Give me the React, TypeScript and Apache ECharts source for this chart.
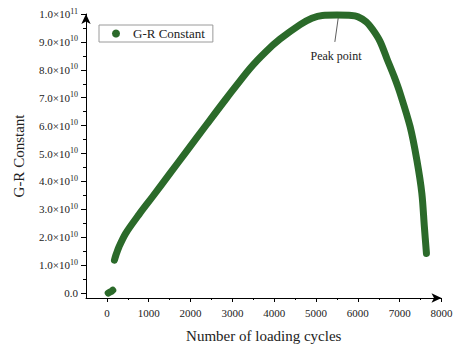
import React, { useEffect, useRef } from "react";
import * as echarts from "echarts";

// Early (pre-jump) cluster of G-R constant values
const earlyCycles = [30, 70, 110, 140];
const earlyGR = [0.0e10, 0.03e10, 0.06e10, 0.1e10];

// Main branch: rise to the peak and the final drop
const mainCycles = [
  180, 220, 290, 450, 770, 1090, 1490, 1890, 2380, 2860, 3420, 3800, 4140, 4620,
  4900, 5150, 5500, 5850, 6000, 6200, 6350, 6530, 6700, 6870, 7010, 7250, 7410,
  7530, 7590, 7640,
];
const mainGR = [
  1.18e10, 1.38e10, 1.66e10, 2.14e10, 2.82e10, 3.45e10, 4.25e10, 5.05e10, 6.03e10,
  6.98e10, 8.05e10, 8.65e10, 9.1e10, 9.62e10, 9.85e10, 9.95e10, 9.96e10, 9.95e10,
  9.9e10, 9.72e10, 9.45e10, 9.02e10, 8.38e10, 7.75e10, 7.16e10, 5.96e10, 4.77e10,
  3.57e10, 2.38e10, 1.42e10,
];

const xTicks = [0, 1000, 2000, 3000, 4000, 5000, 6000, 7000, 8000];
const xMinorTicks = [500, 1500, 2500, 3500, 4500, 5500, 6500, 7500];
const yTicks = [0, 1e10, 2e10, 3e10, 4e10, 5e10, 6e10, 7e10, 8e10, 9e10, 1e11];
const yMinorTicks = [0.5e10, 1.5e10, 2.5e10, 3.5e10, 4.5e10, 5.5e10, 6.5e10, 7.5e10, 8.5e10, 9.5e10];

// Peak annotation (data coordinates)
const peakArrowFrom = [5450, 9.0e10];
const peakArrowTo = [5530, 9.85e10];
const peakLabelAt = [5478, 8.5e10];

const SERIF = "Liberation Serif";
const GREEN = "#2b6a2a";

function sciLabel(v: number): string {
  if (Math.abs(v) < 1) return "{m|0.0}";
  const exp = Math.floor(Math.log10(v) + 1e-9);
  const mant = v / Math.pow(10, exp);
  return `{m|${mant.toFixed(1)}×10}{e|${exp}}`;
}

export default function App() {
  const ref = useRef<HTMLDivElement>(null);

  useEffect(() => {
    if (!ref.current) return;
    const chart = echarts.init(ref.current, undefined, { renderer: "svg" });

    const early = earlyCycles.map((c, i) => [c, earlyGR[i]]);
    const main = mainCycles.map((c, i) => [c, mainGR[i]]);

    const lineStyle = { color: GREEN, width: 7, cap: "round", join: "round" };

    chart.setOption({
      animation: false,
      backgroundColor: "#ffffff",
      textStyle: { fontFamily: SERIF },
      grid: { left: 86, right: 19.5, top: 14, bottom: 54 },
      legend: {
        left: 99,
        top: 25,
        orient: "vertical",
        icon: "circle",
        itemWidth: 16,
        itemHeight: 8,
        borderColor: "#9a9a9a",
        borderWidth: 1,
        borderRadius: 0,
        padding: [2, 8, 2, 13],
        textStyle: { fontFamily: SERIF, fontSize: 13, color: "#222", padding: [0, 0, 0, 4] },
        data: [{ name: "G-R Constant", itemStyle: { color: GREEN } }],
      },
      xAxis: [
        {
          type: "value",
          min: -500,
          max: 8000,
          name: "Number of loading cycles",
          nameLocation: "middle",
          nameGap: 30,
          nameTextStyle: { fontFamily: SERIF, fontSize: 15, color: "#222" },
          axisLine: {
            onZero: false,
            lineStyle: { color: "#000", width: 1 },
            symbol: ["none", "arrow"],
            symbolSize: [7, 10],
          },
          axisTick: { customValues: xTicks, length: 4, lineStyle: { color: "#000" } },
          axisLabel: {
            customValues: xTicks,
            margin: 9,
            formatter: (v: number) => String(v),
            fontFamily: SERIF,
            fontSize: 11,
            color: "#222",
          },
          splitLine: { show: false },
        },
        {
          type: "value",
          position: "bottom",
          min: -500,
          max: 8000,
          axisLine: { show: false, onZero: false },
          axisTick: { show: true, customValues: xMinorTicks, length: 2, lineStyle: { color: "#000" } },
          axisLabel: { show: false },
          splitLine: { show: false },
        },
      ],
      yAxis: [
        {
          type: "value",
          min: -0.179e10,
          max: 1e11,
          name: "G-R Constant",
          nameLocation: "middle",
          nameGap: 60,
          nameTextStyle: { fontFamily: SERIF, fontSize: 15, color: "#222" },
          axisLine: {
            show: true,
            onZero: false,
            lineStyle: { color: "#000", width: 1 },
            symbol: ["none", "arrow"],
            symbolSize: [7, 10],
          },
          axisTick: { show: true, customValues: yTicks, length: 5, lineStyle: { color: "#000" } },
          axisLabel: {
            customValues: yTicks,
            margin: 8,
            formatter: (v: number) => sciLabel(v),
            rich: {
              m: { fontFamily: SERIF, fontSize: 11, color: "#222", lineHeight: 14 },
              e: { fontFamily: SERIF, fontSize: 8, color: "#222", lineHeight: 8, verticalAlign: "top" },
            },
          },
          splitLine: { show: false },
        },
        {
          type: "value",
          position: "left",
          min: -0.179e10,
          max: 1e11,
          axisLine: { show: false, onZero: false },
          axisTick: { show: true, customValues: yMinorTicks, length: 3, lineStyle: { color: "#000" } },
          axisLabel: { show: false },
          splitLine: { show: false },
        },
      ],
      series: [
        {
          name: "G-R Constant",
          type: "line",
          data: early,
          showSymbol: false,
          lineStyle,
          itemStyle: { color: GREEN },
        },
        {
          name: "G-R Constant",
          type: "line",
          data: main,
          smooth: 0.3,
          showSymbol: false,
          lineStyle,
          itemStyle: { color: GREEN },
          markLine: {
            silent: true,
            symbol: ["none", "arrow"],
            symbolSize: [0, 6],
            lineStyle: { color: "#333", width: 0.8, type: "solid" },
            label: { show: false },
            data: [[{ coord: peakArrowFrom }, { coord: peakArrowTo }]],
          },
          markPoint: {
            silent: true,
            symbol: "circle",
            symbolSize: 1,
            itemStyle: { color: "rgba(0,0,0,0)" },
            label: {
              show: true,
              position: "inside",
              formatter: "Peak point",
              fontFamily: SERIF,
              fontSize: 12,
              color: "#222",
            },
            data: [{ coord: peakLabelAt }],
          },
        },
      ],
    });

    return () => chart.dispose();
  }, []);

  return (
    <div
      ref={ref}
      style={{ position: "fixed", left: 0, top: 0, width: 461, height: 352, background: "#fff" }}
    />
  );
}
